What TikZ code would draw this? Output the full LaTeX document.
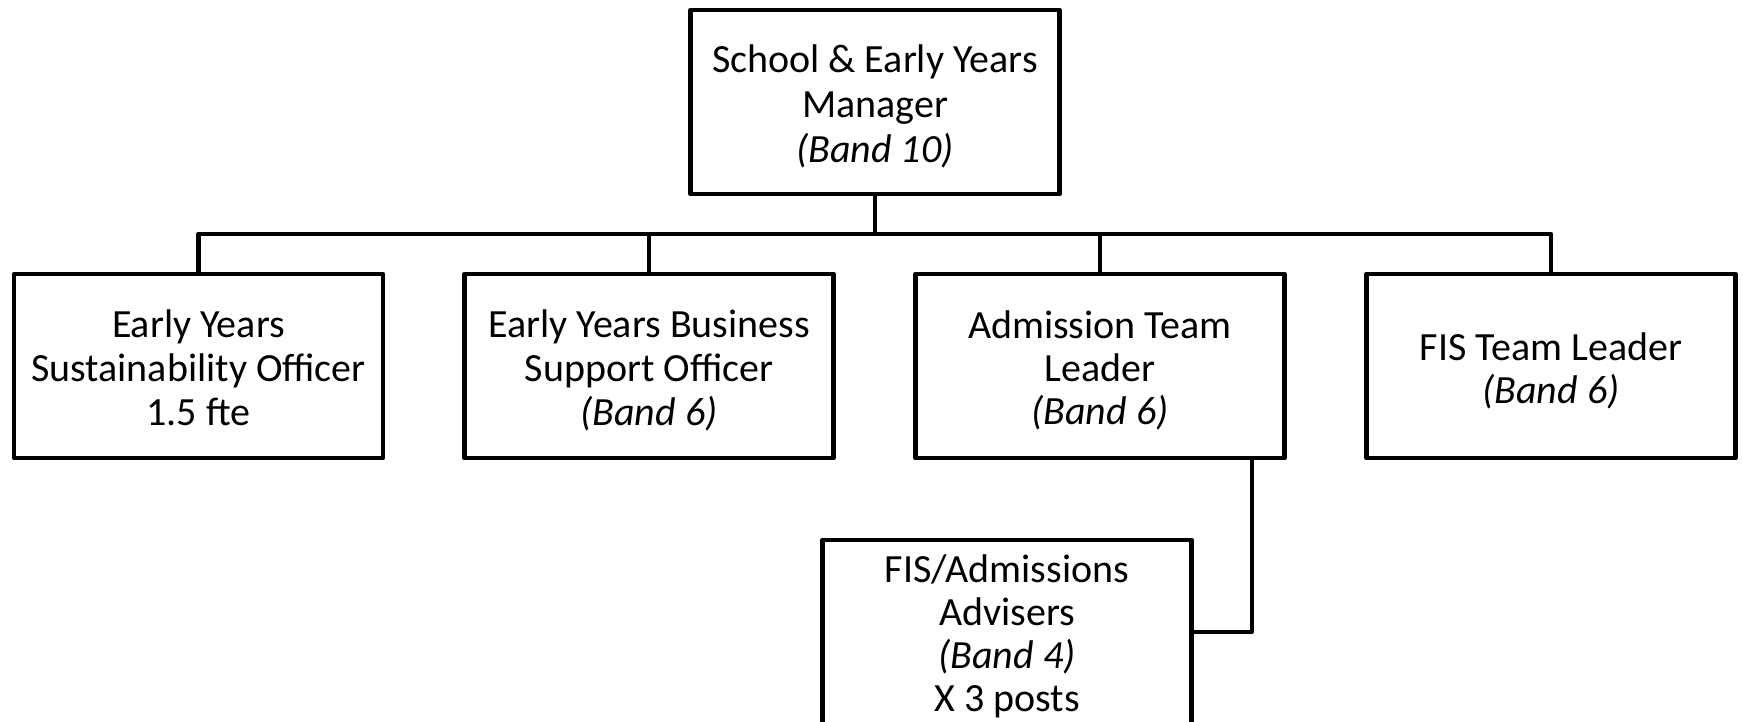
\documentclass[tikz,border=0pt]{standalone}
\usepackage{fontspec}
\setmainfont{Carlito}
\newcommand\lnstrut{\rule[-6pt]{0pt}{43pt}}
\begin{document}
\begin{tikzpicture}[x=1pt,y=-1pt,
  box/.style={draw=black,line width=4.5pt,line join=round,minimum width=369pt,minimum height=184pt,inner sep=0pt,align=center,
    font=\fontsize{40pt}{43pt}\selectfont},
  wire/.style={draw=black,line width=4.5pt,line join=round}]
\useasboundingbox (0,0) rectangle (1743,722);
\clip (0,0) rectangle (1743,722);
\node[box] (top) at (875,102) {\lnstrut School \& Early Years\\\lnstrut Manager\\\lnstrut\textit{(Band 10)}};
\node[box] (b1) at (198.5,366) {\lnstrut Early Years\\\lnstrut Sustainability Officer\\\lnstrut 1.5 fte};
\node[box] (b2) at (649,366) {\lnstrut Early Years Business\\\lnstrut Support Officer\\\lnstrut\textit{(Band 6)}};
\node[box] (b3) at (1100,366) {\lnstrut Admission Team\\\lnstrut Leader\\\lnstrut\textit{(Band 6)}};
\node[box] (b4) at (1551,366) {\lnstrut FIS Team Leader\\\lnstrut\textit{(Band 6)}};
\node[box] (b5) at (1007,632) {\lnstrut FIS/Admissions\\\lnstrut Advisers\\\lnstrut\textit{(Band 4)}\\\lnstrut X 3 posts};
\coordinate (bus) at (875,234);
\draw[wire] (top.south) -- (bus);
\draw[wire] (b1.north) |- (bus) -| (b4.north);
\draw[wire] (b2.north) -- (b2.north |- bus);
\draw[wire] (b3.north) -- (b3.north |- bus);
\coordinate (adm) at ([xshift=-35pt]b3.south east);
\draw[wire] (adm) |- (b5.east);
\end{tikzpicture}
\end{document}
